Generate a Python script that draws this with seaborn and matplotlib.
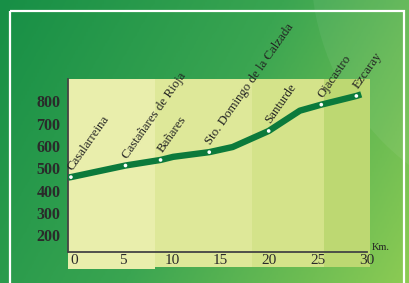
import numpy as np
import pandas as pd
import matplotlib
matplotlib.use("Agg")
import matplotlib.pyplot as plt
import matplotlib.transforms as mtransforms
from matplotlib.colors import LinearSegmentedColormap
from matplotlib.patches import Rectangle, Circle
import seaborn as sns

# --- datos del perfil (km, altitud) ---
pueblos = ["Casalarreina", "Castañares de Rioja", "Bañares",
           "Sto. Domingo de la Calzada", "Santurde", "Ojacastro", "Ezcaray"]
km_pueblos = [0, 5.6, 9.2, 14.2, 20.3, 25.7, 29.3]
alt_pueblos = [460, 512, 537, 572, 667, 785, 824]

# trazado de la linea (incluye los quiebros entre pueblos)
km_linea = [-0.3, 0, 5.6, 9.2, 10.5, 14.2, 16.6, 20.3, 23.5, 25.7, 29.3, 29.8]
alt_linea = [458, 460, 512, 537, 551, 572, 595, 667, 758, 785, 824, 831]

# tramos de fondo
tramos = [-0.3, 8.6, 18.6, 26.0, 30.7]
colores_tramo = ["#e9eeac", "#dee899", "#d4e38a", "#bdd872"]

x_ticks = [0, 5, 10, 15, 20, 25, 30]
y_ticks = [200, 300, 400, 500, 600, 700, 800]

perfil = pd.DataFrame({"km": km_linea, "alt": alt_linea})
puntos = pd.DataFrame({"km": km_pueblos, "alt": alt_pueblos, "pueblo": pueblos})

sns.set_style("white")
plt.rcParams["font.family"] = ["Liberation Serif", "DejaVu Serif"]

W, H = 409, 283
fig = plt.figure(figsize=(W / 100, H / 100), dpi=100)

# fondo degradado verde
bg = fig.add_axes([0, 0, 1, 1])
gx, gy = np.meshgrid(np.linspace(0, 1, 200), np.linspace(0, 1, 140))
grad = 0.72 * gx + 0.28 * gy
cmap = LinearSegmentedColormap.from_list("verde", ["#178f46", "#3aa551", "#8ccb54"])
bg.imshow(grad, cmap=cmap, aspect="auto", extent=[0, W, H, 0])
bg.add_patch(Circle((560, -33), 249, color="white", alpha=0.06, lw=0))
bg.add_patch(Rectangle((10, 11), 394, 300, fill=False, ec="white", lw=1.6))
bg.set_xlim(0, W)
bg.set_ylim(H, 0)
bg.axis("off")

ax = fig.add_axes([68 / W, 1 - 269 / H, (370 - 68) / W, (269 - 79) / H])
ax.set_facecolor("none")
ax.set_xlim(tramos[0], tramos[-1])
ax.set_ylim(48, 900)

for i, c in enumerate(colores_tramo):
    ax.axvspan(tramos[i], tramos[i + 1], ymin=0 if i == 0 else 0.012,
               color=c, lw=0, zorder=0)

sns.lineplot(data=perfil, x="km", y="alt", ax=ax, color="#0b7a3b", lw=4.6,
             sort=False, solid_capstyle="butt", solid_joinstyle="round", zorder=3)
sns.scatterplot(data=puntos, x="km", y="alt", ax=ax, color="white", s=7,
                edgecolor="none", zorder=4)

for _, r in puntos.iterrows():
    ax.annotate(r["pueblo"], (r["km"], r["alt"]), xytext=(3, 3.5),
                textcoords="offset points", rotation=55, rotation_mode="anchor",
                ha="left", va="bottom", fontsize=9.3, color="#222222",
                annotation_clip=False, zorder=5)

for s in ["top", "right"]:
    ax.spines[s].set_visible(False)
ax.spines["left"].set_bounds(125, 900)
ax.spines["bottom"].set_position(("data", 125))
ax.spines["bottom"].set_bounds(tramos[0], 30.4)
for s in ["left", "bottom"]:
    ax.spines[s].set_color("#444444")
    ax.spines[s].set_linewidth(1.3)

ax.set_xticks(x_ticks)
ax.set_yticks(y_ticks)
ax.set_xticklabels([str(v) for v in x_ticks])
ax.set_yticklabels([str(v) for v in y_ticks])
ax.tick_params(axis="y", direction="out", length=4.5, width=1.2, color="#444444",
               pad=1, labelsize=11.5, labelcolor="#2a2a2a")
ax.tick_params(axis="x", length=0, pad=1.5, labelsize=11, labelcolor="#2a2a2a")
for lab in ax.get_yticklabels():
    lab.set_fontweight("bold")
shift = mtransforms.ScaledTranslation(3.5 / 100, 0, fig.dpi_scale_trans)
for lab in ax.get_xticklabels():
    lab.set_transform(lab.get_transform() + shift)
ax.set_xlabel("")
ax.set_ylabel("")

ax.text(30.85, 125, "Km.", fontsize=7.5, color="#222222", ha="left",
        va="bottom", clip_on=False)

fig.savefig("out.png", dpi=100)
